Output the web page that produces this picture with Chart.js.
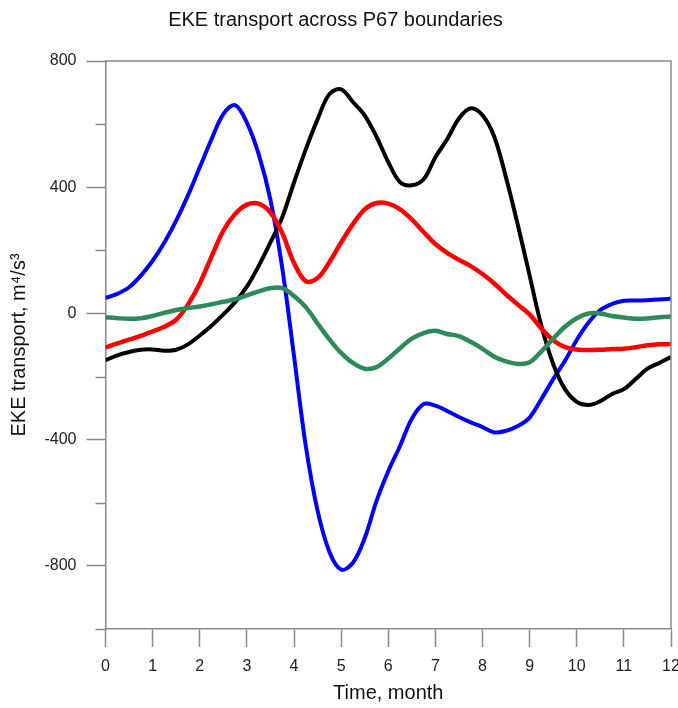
<!DOCTYPE html>
<html>
<head>
<meta charset="utf-8">
<script src="https://cdn.jsdelivr.net/npm/chart.js@4"></script>
<style>
  html, body { margin: 0; padding: 0; background: #fff; }
  #wrap { width: 678px; height: 708px; }
</style>
</head>
<body>
<div id="wrap"><canvas id="c" width="678" height="708"></canvas></div>
<script>
// Time axis, months
const months = [0, 0.25, 0.5, 0.75, 1, 1.25, 1.5, 1.75, 2, 2.25, 2.5, 2.75, 3, 3.25, 3.5, 3.75,
  4, 4.25, 4.5, 4.75, 5, 5.25, 5.5, 5.75, 6, 6.25, 6.5, 6.75, 7, 7.25, 7.5, 7.75,
  8, 8.25, 8.5, 8.75, 9, 9.25, 9.5, 9.75, 10, 10.25, 10.5, 10.75, 11, 11.25, 11.5, 11.75, 12];

// EKE transport, m^4/s^3
const blueSeries = [49, 62, 83, 120, 167, 225, 294, 374, 463, 552, 632, 660, 605, 505, 360, 145,
  -135, -420, -625, -755, -812, -790, -712, -595, -500, -420, -334, -287, -292, -309, -328, -345,
  -360, -377, -372, -357, -330, -271, -208, -150, -84, -29, 11, 30, 40, 41, 42, 44, 47];

const blackSeries = [-148, -133, -122, -115, -114, -118, -115, -98, -70, -39, -3, 36, 85, 150, 225, 305,
  415, 520, 615, 695, 710, 670, 628, 560, 480, 416, 406, 425, 495, 552, 618, 650,
  628, 560, 430, 280, 120, -40, -160, -240, -280, -290, -278, -255, -240, -208, -175, -157, -138];

const redSeries = [-108, -95, -83, -71, -57, -42, -20, 28, 95, 180, 262, 315, 345, 348, 320, 255,
  160, 102, 112, 162, 225, 283, 330, 350, 348, 330, 298, 258, 220, 192, 170, 150,
  125, 95, 60, 28, -3, -48, -85, -107, -114, -116, -115, -113, -112, -107, -101, -98, -97];

const greenSeries = [-12, -15, -17, -15, -8, 2, 11, 17, 22, 29, 37, 45, 57, 70, 80, 80,
  55, 20, -32, -82, -125, -157, -175, -170, -143, -110, -80, -62, -55, -65, -72, -90,
  -112, -137, -152, -160, -155, -120, -80, -42, -15, 0, 0, -8, -13, -17, -16, -12, -10];

const yLabelledTicks = [-800, -400, 0, 400, 800];

const FONT = "'Liberation Sans', Arial, sans-serif";
const AXIS_GREY = '#8a8a8a';

function toPoints(ys) {
  return months.map((m, i) => ({ x: m, y: ys[i] }));
}

function lineSet(values, color, width) {
  return {
    data: toPoints(values),
    borderColor: color,
    borderWidth: width,
    pointRadius: 0,
    tension: 0.35,
    fill: false
  };
}

// Frame on the top and right sides plus short minor ticks on the value axis
const frameAndMinorTicks = {
  id: 'frameAndMinorTicks',
  afterDraw(chart) {
    const { ctx, chartArea: a, scales } = chart;
    ctx.save();
    ctx.strokeStyle = AXIS_GREY;
    ctx.lineWidth = 1.5;
    ctx.beginPath();
    ctx.moveTo(a.left, a.top);
    ctx.lineTo(a.right, a.top);
    ctx.lineTo(a.right, a.bottom);
    ctx.stroke();
    const y = scales.y;
    ctx.beginPath();
    y.ticks.forEach(t => {
      if (!yLabelledTicks.includes(t.value)) {
        const py = Math.round(y.getPixelForValue(t.value)) + 0.5;
        ctx.moveTo(a.left - 10, py);
        ctx.lineTo(a.left, py);
      }
    });
    ctx.stroke();
    ctx.restore();
  }
};

new Chart(document.getElementById('c'), {
  type: 'line',
  data: {
    datasets: [
      lineSet(greenSeries, '#2e8b57', 4.5),
      lineSet(redSeries, '#ff0000', 4.5),
      lineSet(blackSeries, '#000000', 4),
      lineSet(blueSeries, '#0000ff', 4)
    ]
  },
  options: {
    responsive: false,
    animation: false,
    layout: { padding: { top: 0, right: 7, bottom: 0, left: 0 } },
    plugins: {
      legend: { display: false },
      tooltip: { enabled: false },
      title: {
        display: true,
        text: 'EKE transport across P67 boundaries',
        color: '#111',
        font: { family: FONT, size: 20, weight: 'normal' },
        padding: { top: 8, bottom: 29 }
      }
    },
    scales: {
      x: {
        type: 'linear',
        min: 0,
        max: 12,
        afterFit(s) {
          s.height = 79;
          s.paddingLeft = 0;
          s.paddingRight = 0;
        },
        ticks: {
          stepSize: 1,
          color: '#222',
          font: { family: FONT, size: 16 },
          padding: 10,
          maxRotation: 0
        },
        grid: {
          drawOnChartArea: false,
          drawTicks: true,
          tickLength: 18,
          tickColor: AXIS_GREY,
          tickWidth: 1.5
        },
        border: { display: true, color: AXIS_GREY, width: 1.5 },
        title: {
          display: true,
          text: 'Time, month',
          color: '#111',
          font: { family: FONT, size: 20 },
          padding: { top: 0, bottom: 3 }
        }
      },
      y: {
        type: 'linear',
        min: -1000,
        max: 800,
        afterFit(s) {
          s.width = 105.5;
          s.paddingTop = 0;
          s.paddingBottom = 0;
        },
        ticks: {
          stepSize: 200,
          color: '#222',
          font: { family: FONT, size: 16 },
          padding: 10,
          callback: v => (yLabelledTicks.includes(v) ? String(v) : '')
        },
        grid: {
          drawOnChartArea: false,
          drawTicks: true,
          tickLength: 19,
          tickColor: c => (c.tick && yLabelledTicks.includes(c.tick.value) ? AXIS_GREY : 'rgba(0,0,0,0)'),
          tickWidth: 1.5
        },
        border: { display: true, color: AXIS_GREY, width: 1.5 },
        title: {
          display: true,
          text: 'EKE transport, m⁴/s³',
          color: '#111',
          font: { family: FONT, size: 20 },
          padding: { top: 7.5, bottom: 0 }
        }
      }
    }
  },
  plugins: [frameAndMinorTicks]
});
</script>
</body>
</html>
